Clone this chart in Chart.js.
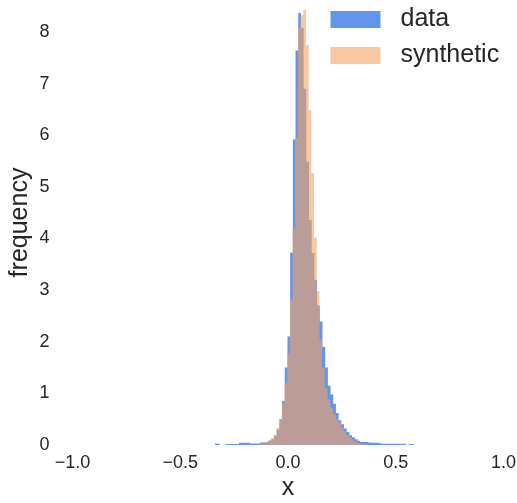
<!DOCTYPE html>
<html>
<head>
<meta charset="utf-8">
<script src="https://cdn.jsdelivr.net/npm/chart.js@4.4.0/dist/chart.umd.min.js"></script>
<style>
  html, body { margin: 0; padding: 0; background: #fff; }
  #wrap { width: 517px; height: 503px; }
</style>
</head>
<body>
<div id="wrap"><canvas id="histChart" width="517" height="503"></canvas></div>
<script>
// Histogram bins: left edge of the first bin and a common bin width
const binWidth = 0.0125;
const dataStart = -0.34;
const synthStart = -0.129;

// Bin heights (density)
const dataHeights = [
  0.03, 0.02, 0, 0, 0.02, 0.02, 0.02, 0.02, 0.02, 0.045,
  0.045, 0.045, 0.045, 0.03, 0.03, 0.03, 0.03, 0.05, 0.05, 0.06,
  0.08, 0.11, 0.18, 0.3, 0.5, 0.85, 1.5, 2.1, 3.73, 5.92,
  7.64, 8.37, 8.08, 6.9, 5.49, 4.36, 3.72, 3.2, 2.7, 2.39,
  1.9, 1.5, 1.15, 0.98, 0.8, 0.62, 0.48, 0.4, 0.32, 0.25,
  0.19, 0.15, 0.11, 0.08, 0.06, 0.06, 0.06, 0.05, 0.045, 0.045,
  0.045, 0.035, 0.025, 0.025, 0.025, 0.025, 0.025, 0.025, 0.025, 0.025,
  0.025, 0, 0.02, 0.02
];
const synthHeights = [
  0.02, 0.03, 0.065, 0.1, 0.13, 0.2, 0.33, 0.5, 0.8, 1.2,
  1.78, 2.81, 4.19, 5.95, 8.08, 8.33, 8.43, 7.75, 6.48, 5.27,
  4.02, 2.98, 2.05, 1.5, 1.1, 0.88, 0.72, 0.6, 0.5, 0.44,
  0.34, 0.27, 0.2, 0.14, 0.09, 0.06, 0.04, 0.025, 0.015, 0.01
];

const seriesLabels = ['data', 'synthetic'];
const xTicks = [-1, -0.5, 0, 0.5, 1];
const yTicks = [0, 1, 2, 3, 4, 5, 6, 7, 8];

const textColor = '#262626';
const fontFamily = '"Liberation Sans", Arial, sans-serif';

// turn bin heights into step points (left edges + closing right edge)
function toSteps(start, heights) {
  const pts = heights.map((h, i) => ({ x: start + i * binWidth, y: h }));
  pts.push({ x: start + heights.length * binWidth, y: 0 });
  return pts;
}

// matplotlib-like legend drawn inside the plot, upper right
const insideLegend = {
  id: 'insideLegend',
  afterDraw(chart) {
    const { ctx, chartArea } = chart;
    const x0 = chartArea.right - 173;
    ctx.save();
    ctx.font = '25px ' + fontFamily;
    ctx.textBaseline = 'middle';
    ctx.textAlign = 'left';
    chart.data.datasets.forEach((ds, i) => {
      const y = chartArea.top + 11 + i * 36;
      ctx.fillStyle = ds.backgroundColor;
      ctx.fillRect(x0, y, 50, 17);
      ctx.fillStyle = textColor;
      ctx.fillText(ds.label, x0 + 70, y + 8.5);
    });
    ctx.restore();
  }
};

const fmt = v => (v < 0 ? '\u2212' : '') + Math.abs(v).toFixed(1);

new Chart(document.getElementById('histChart'), {
  type: 'line',
  data: {
    datasets: [{
      label: seriesLabels[0],
      data: toSteps(dataStart, dataHeights),
      stepped: 'before',
      fill: 'origin',
      backgroundColor: '#6495ED',
      borderWidth: 0,
      pointRadius: 0,
      order: 2
    }, {
      label: seriesLabels[1],
      data: toSteps(synthStart, synthHeights),
      stepped: 'before',
      fill: 'origin',
      backgroundColor: 'rgba(244, 164, 96, 0.6)',
      borderWidth: 0,
      pointRadius: 0,
      order: 1
    }]
  },
  options: {
    responsive: false,
    animation: false,
    layout: { padding: { left: 5, right: 13.5, top: 0, bottom: 0 } },
    plugins: {
      legend: { display: false },
      tooltip: { enabled: false }
    },
    scales: {
      x: {
        type: 'linear',
        min: -1,
        max: 1,
        afterBuildTicks: s => { s.ticks = xTicks.map(v => ({ value: v })); },
        afterFit: s => { s.height = 58; s.paddingLeft = 0; s.paddingRight = 0; },
        grid: { display: false, drawTicks: false },
        border: { display: false },
        ticks: {
          padding: 7,
          color: textColor,
          font: { family: fontFamily, size: 18 },
          maxRotation: 0,
          callback: v => fmt(v)
        },
        title: {
          display: true,
          text: 'x',
          color: textColor,
          font: { family: fontFamily, size: 25 },
          padding: { top: 0, bottom: 0 }
        }
      },
      y: {
        min: 0,
        max: 8.62,
        afterBuildTicks: s => { s.ticks = yTicks.map(v => ({ value: v })); },
        afterFit: s => { s.width = 67.5; s.paddingTop = 0; s.paddingBottom = 0; },
        grid: { display: false, drawTicks: false },
        border: { display: false },
        ticks: {
          padding: 23,
          color: textColor,
          font: { family: fontFamily, size: 18 },
          callback: v => String(v)
        },
        title: {
          display: true,
          text: 'frequency',
          color: textColor,
          font: { family: fontFamily, size: 25 },
          padding: { top: 0, bottom: 0 }
        }
      }
    }
  },
  plugins: [insideLegend]
});
</script>
</body>
</html>
